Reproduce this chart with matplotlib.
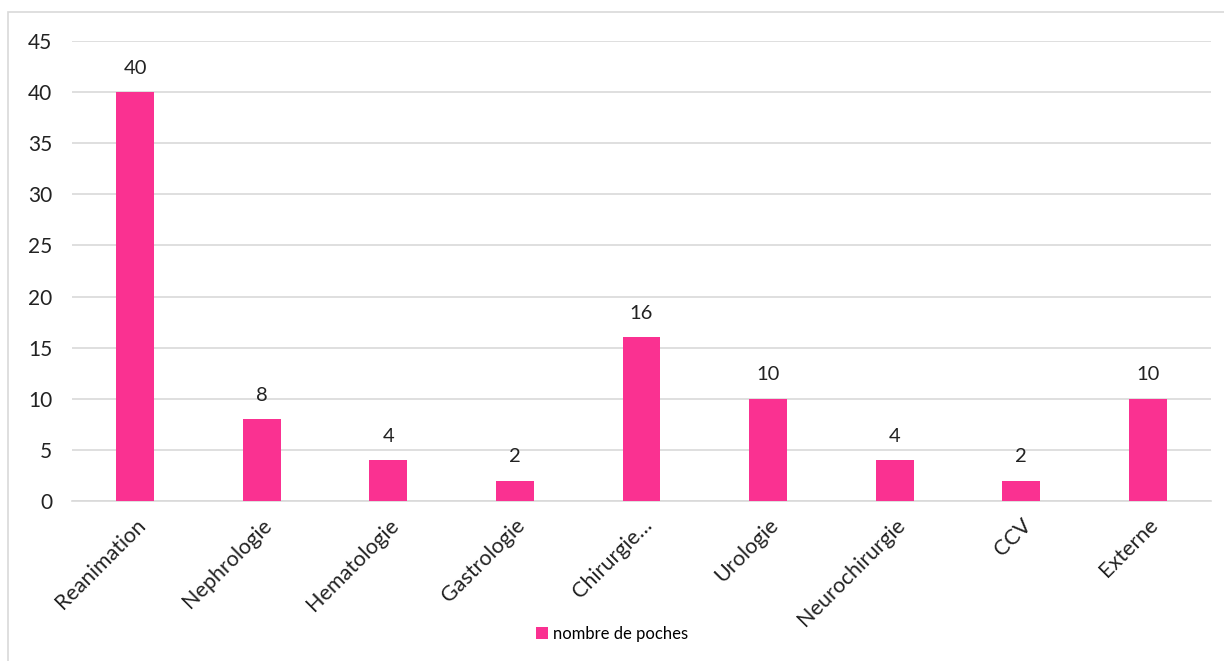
import matplotlib
matplotlib.use("Agg")
import matplotlib.pyplot as plt
from matplotlib.patches import Rectangle
import numpy as np

# Data
services = ["Reanimation", "Nephrologie", "Hematologie", "Gastrologie", "Chirurgie…",
            "Urologie", "Neurochirurgie", "CCV", "Externe"]
poches = [40, 8, 4, 2, 16, 10, 4, 2, 10]
series_name = "nombre de poches"
yticks = [0, 5, 10, 15, 20, 25, 30, 35, 40, 45]

BAR_COLOR = "#FA3191"
GRID_COLOR = "#d9d9d9"
TEXT_COLOR = "#222222"

plt.rcParams["font.family"] = ["Lato", "DejaVu Sans"]

fig = plt.figure(figsize=(12.24, 6.61), dpi=100)
ax = fig.add_axes([0.0586, 0.242, 0.931, 0.696])

# outer chart frame
fig.patches.append(Rectangle((8 / 1224, -0.1), 1.2, 1 - 12 / 661 + 0.1,
                             transform=fig.transFigure, fill=False,
                             edgecolor=GRID_COLOR, linewidth=1.2))

x = np.arange(len(services))
bars = ax.bar(x, poches, width=0.3, color=BAR_COLOR, label=series_name, zorder=3)

for bar, v in zip(bars, poches):
    ax.text(bar.get_x() + bar.get_width() / 2, v + 1.5, str(v),
            ha="center", va="bottom", fontsize=14.5, color=TEXT_COLOR)

ax.set_xlim(-0.5, len(services) - 0.5)
ax.set_ylim(0, 45)
ax.set_yticks(yticks)
ax.tick_params(axis="y", length=0, labelsize=15, pad=14, colors=TEXT_COLOR)
ax.set_xticks(x)
ax.set_xticklabels(services, rotation=45, ha="right", rotation_mode="anchor",
                   fontsize=15.5, color=TEXT_COLOR)
ax.tick_params(axis="x", length=0, pad=10)
ax.grid(axis="y", color=GRID_COLOR, linewidth=1.2, zorder=0)
for side in ["top", "right", "left"]:
    ax.spines[side].set_visible(False)
ax.spines["bottom"].set_color(GRID_COLOR)
ax.spines["bottom"].set_linewidth(1.2)

fig.legend(loc="center", bbox_to_anchor=(612 / 1224, 1 - 634 / 661), frameon=False,
           fontsize=12, handlelength=0.7, handleheight=0.7, handletextpad=0.3)

fig.savefig("out.png", dpi=100)
